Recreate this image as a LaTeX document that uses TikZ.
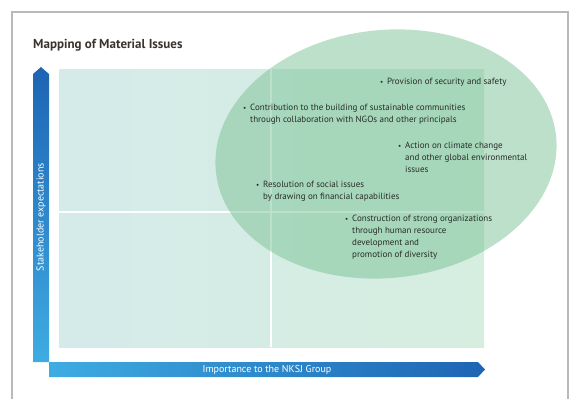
\documentclass[tikz,border=0pt]{standalone}
\usepackage{fontspec}
\setmainfont{PT Sans}
\usepackage{tikz}
\usetikzlibrary{shapes.geometric, positioning, calc}
\definecolor{nksjblue}{RGB}{30,100,180}
\definecolor{nksjcyan}{RGB}{62,172,226}
\definecolor{gridleft}{RGB}{213,235,234}
\definecolor{gridright}{RGB}{214,238,224}
\definecolor{ovalgreen}{RGB}{122,194,148}
\definecolor{titlegray}{RGB}{58,52,48}
\definecolor{framegray}{RGB}{185,185,185}
\definecolor{itemgray}{RGB}{38,44,40}
\newcommand{\bul}{\makebox[7pt][l]{\scriptsize\textbullet}}
\newcommand{\ind}{\hspace*{7pt}}

\begin{document}
\begin{tikzpicture}[
  x=1pt, y=-1pt,
  issue/.style={anchor=north west, inner sep=0pt, align=left, text=itemgray, font=\fontsize{9}{12}\selectfont},
  axislabel/.style={inner sep=0pt, text=white, font=\fontsize{10}{11}\selectfont},
  oval/.style={ellipse, fill=ovalgreen, fill opacity=0.5, inner sep=0pt, minimum width=342pt, minimum height=248pt},
  divider/.style={white, line width=1.2pt}
]
  \useasboundingbox (0,0) rectangle (574,399);
  % Frame
  \draw[framegray, line width=1.2pt] (12,399) -- (12,12) -- (568,12) -- (568,399);
  % Title
  \node[anchor=west, inner sep=0pt, text=titlegray, font=\fontsize{13}{15}\selectfont\bfseries] (title) at (33,45) {Mapping of Material Issues};
  % Grid
  \shade[left color=gridleft, right color=gridright] (59,69) rectangle (484,347);
  \draw[divider] (271,69) -- (271,347);
  \draw[divider] (59,212) -- (484,212);
  % Axes
  \shade[top color=nksjblue, bottom color=nksjcyan] (33,362) -- (33,74) -- (41,67) -- (49,74) -- (49,362) -- cycle;
  \shade[left color=nksjcyan, right color=nksjblue] (49,362) -- (478,362) -- (485,369.5) -- (478,377) -- (49,377) -- cycle;
  \node[axislabel, rotate=90] (ylab) at (41,217) {Stakeholder expectations};
  \node[axislabel] (xlab) at (267,369.5) {Importance to the NKSJ Group};
  % Material issues
  \node[oval, rotate=6] (focus) at (386,154) {};
  \node[issue] (safety) at (380,78) {\bul Provision of security and safety};
  \node[issue] (community) at (243,104) {\bul Contribution to the building of sustainable communities\\\ind through collaboration with NGOs and other principals};
  \node[issue] (climate) at (398,142) {\bul Action on climate change\\\ind and other global environmental\\\ind issues};
  \node[issue] (social) at (256,181) {\bul Resolution of social issues\\\ind by drawing on financial capabilities};
  \node[issue] (people) at (345,215) {\bul Construction of strong organizations\\\ind through human resource\\\ind development and\\\ind promotion of diversity};
\end{tikzpicture}
\end{document}
